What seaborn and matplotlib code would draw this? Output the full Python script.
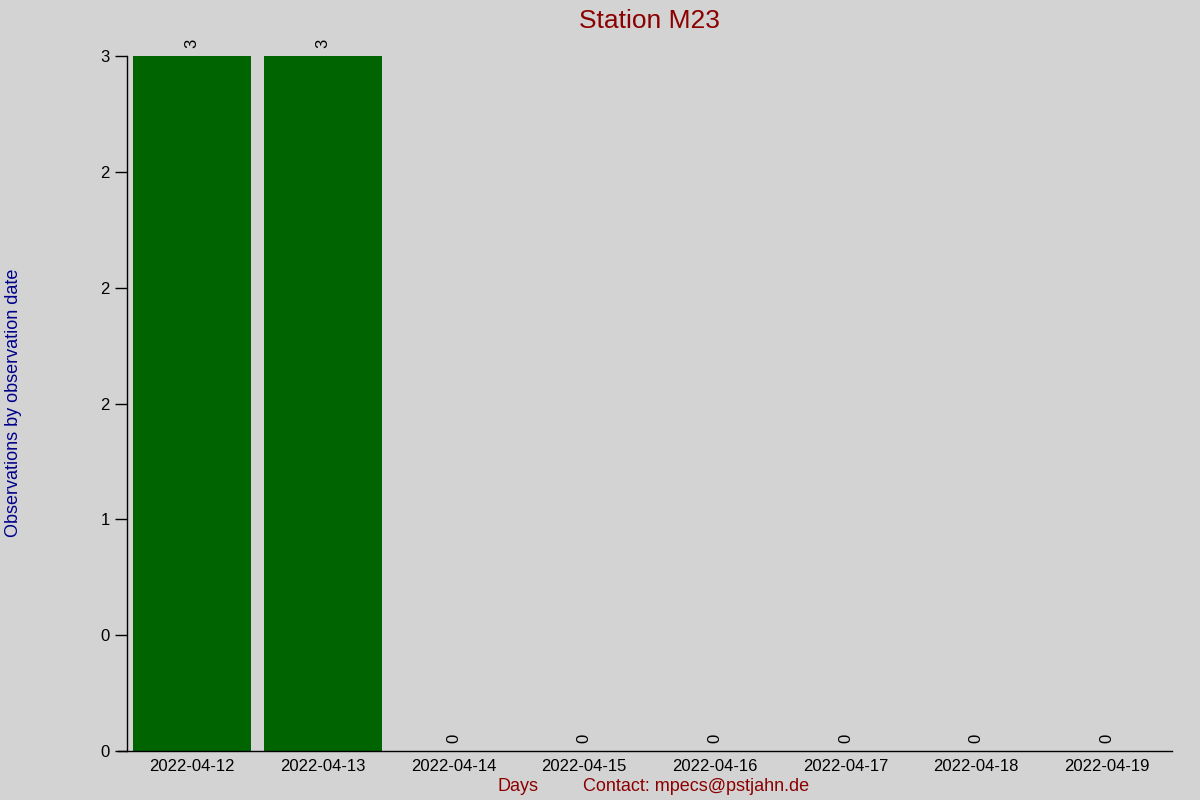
import matplotlib
matplotlib.use('Agg')
import pandas as pd
import seaborn as sns
import matplotlib.pyplot as plt
from matplotlib.ticker import StrMethodFormatter

station = 'M23'
days = ['2022-04-12', '2022-04-13', '2022-04-14', '2022-04-15',
        '2022-04-16', '2022-04-17', '2022-04-18', '2022-04-19']
counts = [3, 3, 0, 0, 0, 0, 0, 0]

df = pd.DataFrame({'Day': days, 'Obs': counts})

sns.set_style('ticks')
plt.rcParams['font.family'] = ['Liberation Sans', 'DejaVu Sans']

fig = plt.figure(figsize=(12, 8), dpi=100, facecolor='lightgray')
ax = fig.add_axes([0.1058, 0.06125, 0.8709, 0.86875])
ax.set_facecolor('lightgray')

sns.barplot(x='Day', y='Obs', data=df, color='darkgreen', saturation=1,
            width=0.9, errorbar=None, linewidth=0, ax=ax)

for i, v in enumerate(counts):
    ax.annotate(str(v), (i, v), xytext=(0, 6), textcoords='offset points',
                rotation=90, ha='center', va='bottom', fontsize=12, color='black')

ax.set_ylim(0, 3)
ax.set_xlim(-0.5, len(days) - 0.5)
ax.set_yticks([0, 0.5, 1, 1.5, 2, 2.5, 3])
ax.yaxis.set_major_formatter(StrMethodFormatter('{x:.0f}'))
ax.tick_params(axis='y', labelsize=12, length=9, width=1, colors='black')
ax.tick_params(axis='x', labelsize=12, length=0, pad=6, colors='black')
ax.set_xlabel('')
ax.set_ylabel('')
for s in ['top', 'right']:
    ax.spines[s].set_visible(False)
for s in ['left', 'bottom']:
    ax.spines[s].set_color('black')
    ax.spines[s].set_linewidth(1)
ax.spines['bottom'].set_bounds(-0.57, len(days) - 0.5)
ax.spines['bottom'].set_clip_on(False)

ax.set_title('Station %s' % station, color='darkred', fontsize=19, pad=20)
fig.text(0.004, 0.497, 'Observations by observation date', rotation=90,
         color='darkblue', fontsize=13, ha='left', va='center')
fig.text(0.432, 0.017, 'Days', color='darkred', fontsize=13, ha='center', va='center')
fig.text(0.58, 0.017, 'Contact: mpecs@pstjahn.de', color='darkred', fontsize=13,
         ha='center', va='center')

plt.savefig('out.png', dpi=100, facecolor='lightgray')
